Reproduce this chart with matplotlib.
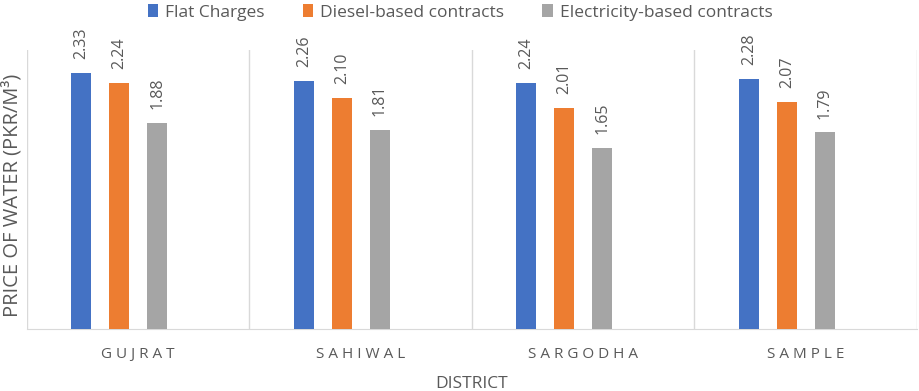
import matplotlib
matplotlib.use("Agg")
import matplotlib.pyplot as plt
from matplotlib.patches import Patch
import numpy as np

plt.rcParams['font.family'] = ['Open Sans', 'DejaVu Sans']

districts = ["GUJRAT", "SAHIWAL", "SARGODHA", "SAMPLE"]
series_names = ["Flat Charges", "Diesel-based contracts", "Electricity-based contracts"]
flat = [2.33, 2.26, 2.24, 2.28]
diesel = [2.24, 2.10, 2.01, 2.07]
electric = [1.88, 1.81, 1.65, 1.79]
colors = ["#4472C4", "#ED7D31", "#A5A5A5"]
txt = "#595959"

fig = plt.figure(figsize=(9.2, 3.91), dpi=100)
ax = fig.add_axes([0.0293, 0.1586, 0.9674, 0.7134])

x = np.arange(len(districts))
step = 0.17
width = 0.09
for k, (vals, col) in enumerate(zip([flat, diesel, electric], colors)):
    pos = x + (k - 1.5) * step
    ax.bar(pos, vals, width=width, color=col, zorder=3)
    for p, v in zip(pos, vals):
        ax.annotate(f"{v:.2f}", (p, v), xytext=(0, 10), textcoords="offset points",
                    rotation=90, ha="center", va="bottom", fontsize=11.5, color=txt)

ax.set_xlim(-0.5, 3.5)
ax.set_ylim(0, 2.54)
for b in np.arange(-0.5, 4.0, 1.0):
    ax.axvline(b, color="#D9D9D9", lw=1, zorder=1)
for s in ["top", "right", "left"]:
    ax.spines[s].set_visible(False)
ax.spines["bottom"].set_color("#D9D9D9")
ax.set_yticks([])
ax.set_xticks(x)
ax.set_xticklabels([" ".join(d) for d in districts], fontsize=11, color=txt)
ax.tick_params(axis="x", length=0, pad=13)
ax.set_xlabel("DISTRICT", fontsize=12.5, color=txt, labelpad=10)
ax.set_ylabel("PRICE OF WATER (PKR/M³)", fontsize=14.5, color=txt, labelpad=3, y=0.48)

handles = [Patch(facecolor=c) for c in colors]
fig.legend(handles, series_names, loc="center", bbox_to_anchor=(0.5, 0.968), ncol=3,
           frameon=False, fontsize=12.5, labelcolor=txt, handlelength=0.6, handleheight=0.75,
           handletextpad=0.4, columnspacing=2.2)

fig.savefig("out.png", dpi=100)
